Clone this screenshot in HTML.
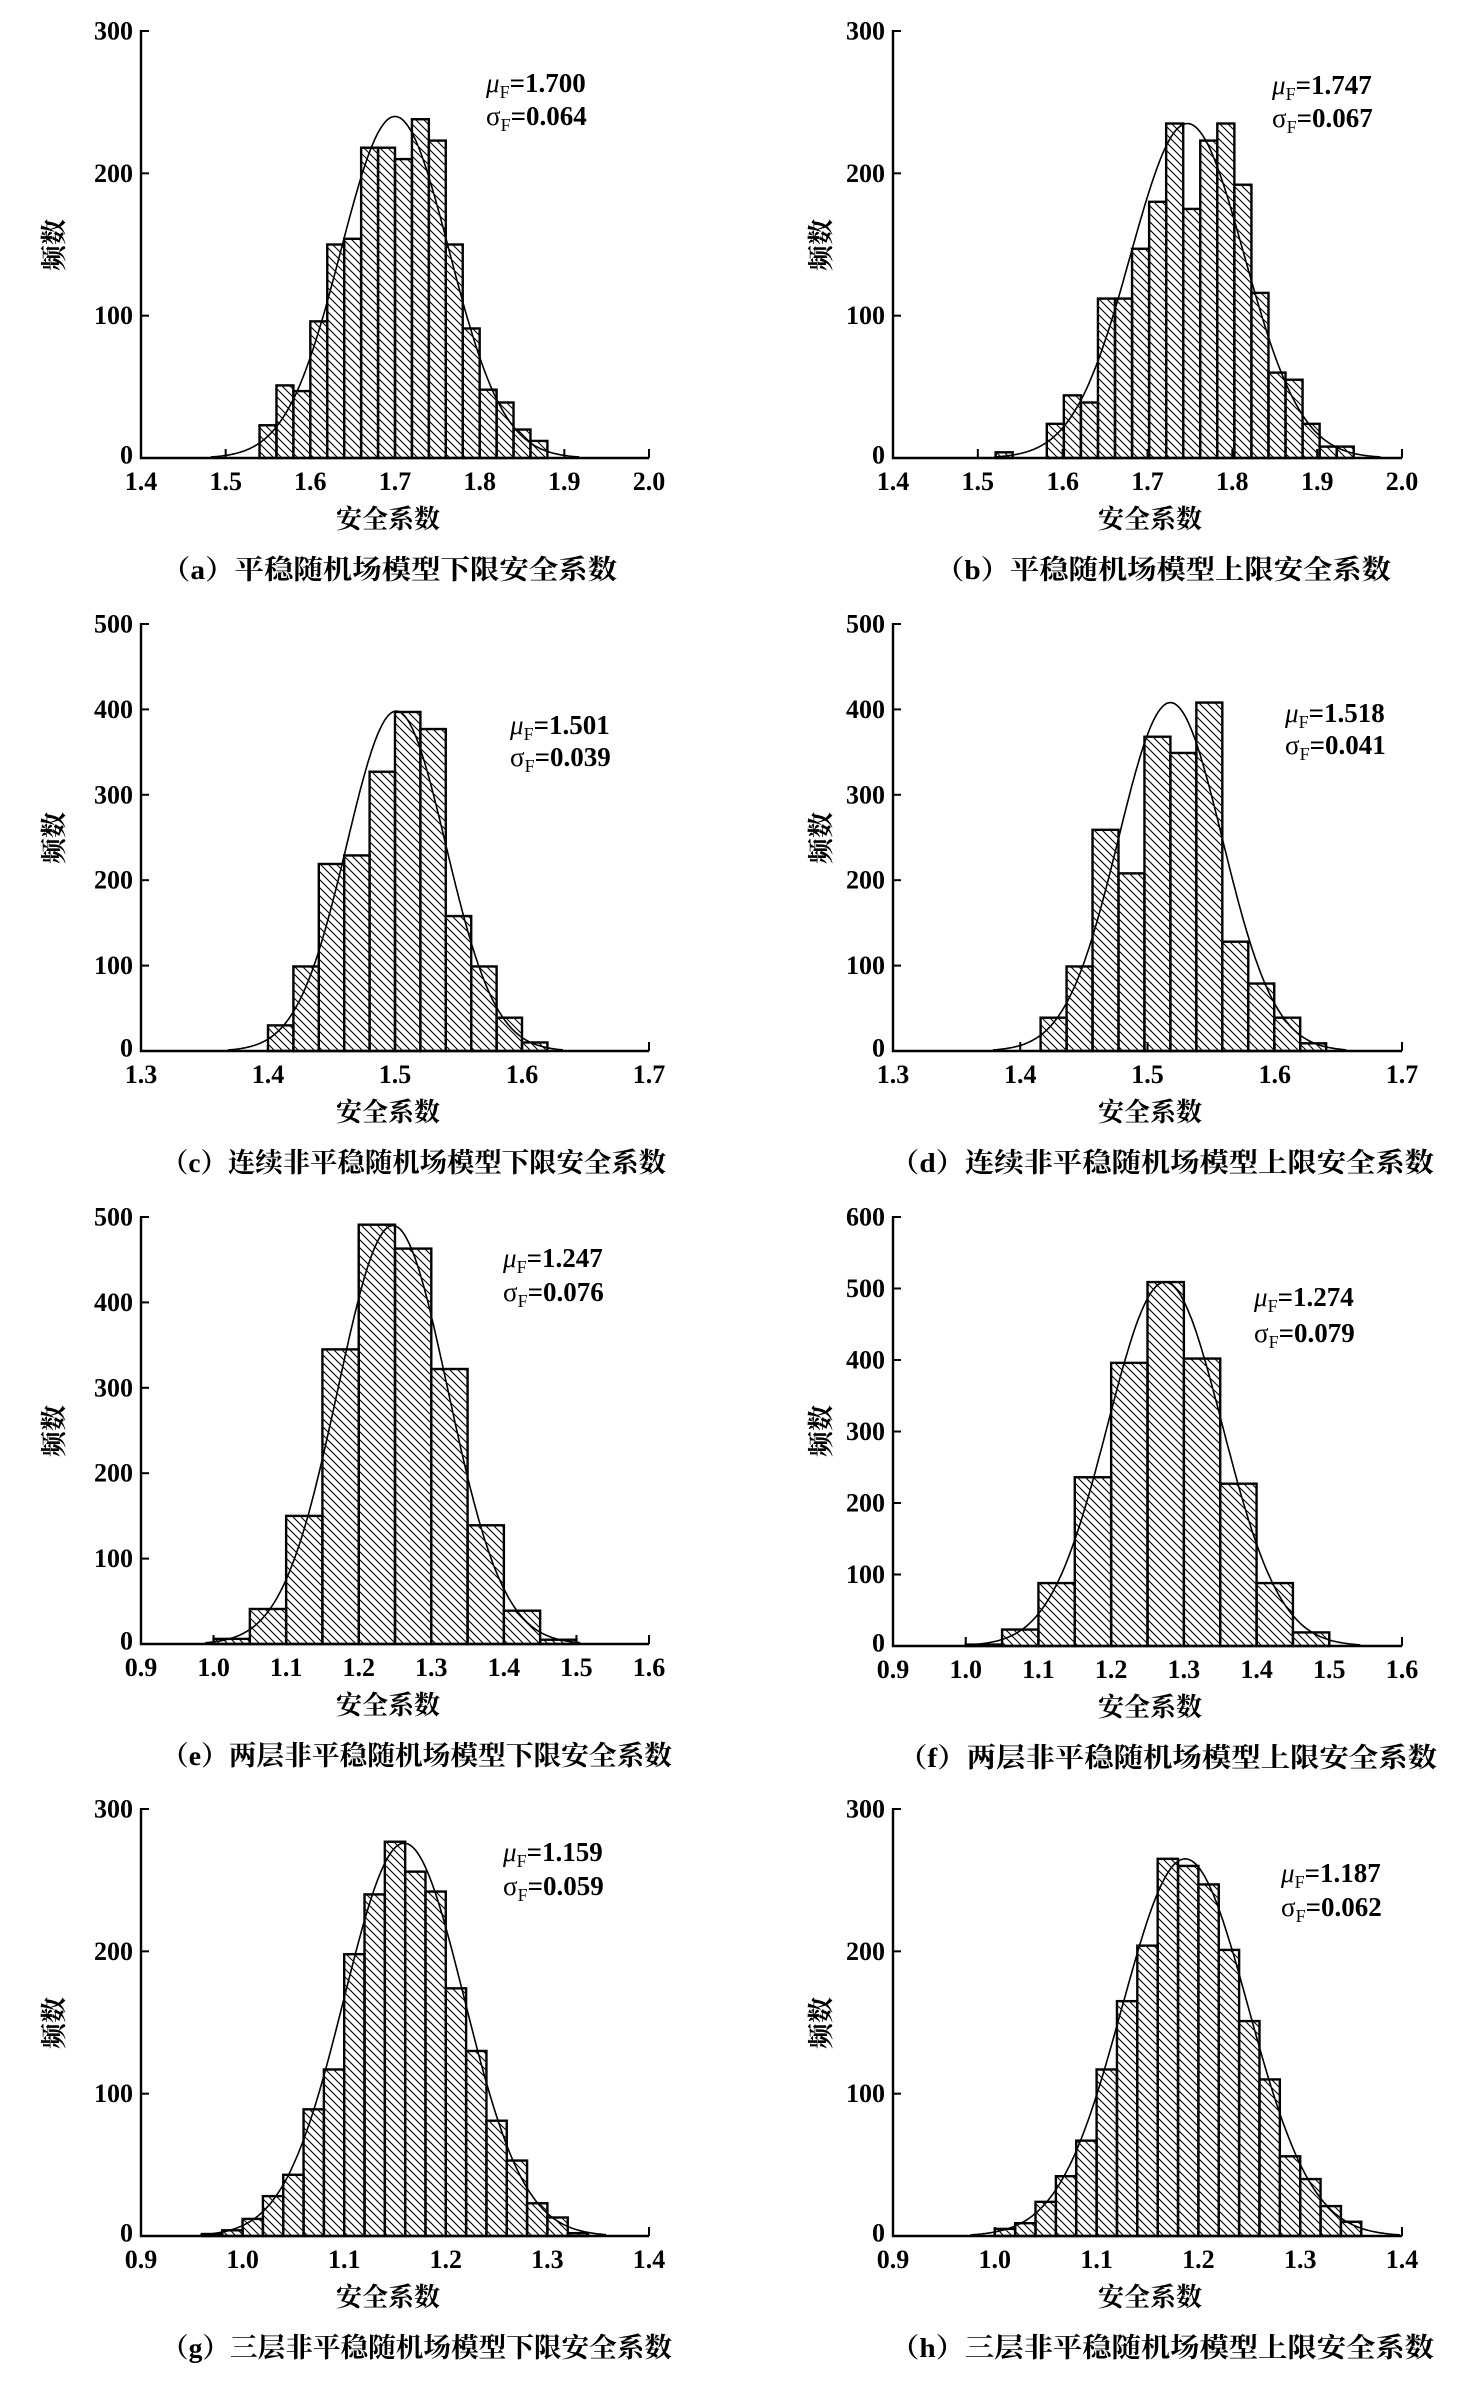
<!DOCTYPE html>
<html><head><meta charset="utf-8"><style>
html,body{margin:0;padding:0;background:#fff;}
svg{display:block;}
.t{font-family:"Liberation Serif",serif;font-size:26px;fill:#000;font-weight:bold;}
.xt{text-anchor:middle;}
.yt{text-anchor:end;dominant-baseline:central;}
.an{font-family:"Liberation Serif",serif;font-size:27px;font-weight:bold;fill:#000;}
.cj{font-family:"Liberation Serif","Noto Serif CJK SC","Noto Sans CJK SC",serif;font-size:26px;fill:#000;font-weight:bold;}
.cap{font-family:"Liberation Serif","Noto Serif CJK SC","Noto Sans CJK SC",serif;font-size:27px;fill:#000;font-weight:bold;}
</style></head><body>
<svg id="s" width="1474" height="2390" viewBox="0 0 1474 2390" xmlns="http://www.w3.org/2000/svg">
<defs>
<pattern id="h" patternUnits="userSpaceOnUse" width="8" height="8">
<path d="M-2,-2 L10,10 M-2,6 L2,10 M6,-2 L10,2" stroke="#000" stroke-width="1.1"/>
</pattern>
</defs>
<g id="g"></g>

<g class="t xt">
<text x="141" y="490">1.4</text><text x="225.7" y="490">1.5</text><text x="310.3" y="490">1.6</text><text x="395" y="490">1.7</text><text x="479.7" y="490">1.8</text><text x="564.3" y="490">1.9</text><text x="649" y="490">2.0</text>
<text x="893" y="490">1.4</text><text x="977.8" y="490">1.5</text><text x="1062.7" y="490">1.6</text><text x="1147.5" y="490">1.7</text><text x="1232.3" y="490">1.8</text><text x="1317.2" y="490">1.9</text><text x="1402" y="490">2.0</text>
<text x="141" y="1083">1.3</text><text x="268" y="1083">1.4</text><text x="395" y="1083">1.5</text><text x="522" y="1083">1.6</text><text x="649" y="1083">1.7</text>
<text x="893" y="1083">1.3</text><text x="1020.3" y="1083">1.4</text><text x="1147.5" y="1083">1.5</text><text x="1274.8" y="1083">1.6</text><text x="1402" y="1083">1.7</text>
<text x="141" y="1676">0.9</text><text x="213.6" y="1676">1.0</text><text x="286.1" y="1676">1.1</text><text x="358.7" y="1676">1.2</text><text x="431.3" y="1676">1.3</text><text x="503.9" y="1676">1.4</text><text x="576.4" y="1676">1.5</text><text x="649" y="1676">1.6</text>
<text x="893" y="1678">0.9</text><text x="965.7" y="1678">1.0</text><text x="1038.4" y="1678">1.1</text><text x="1111.1" y="1678">1.2</text><text x="1183.9" y="1678">1.3</text><text x="1256.6" y="1678">1.4</text><text x="1329.3" y="1678">1.5</text><text x="1402" y="1678">1.6</text>
<text x="141" y="2268">0.9</text><text x="242.6" y="2268">1.0</text><text x="344.2" y="2268">1.1</text><text x="445.8" y="2268">1.2</text><text x="547.4" y="2268">1.3</text><text x="649" y="2268">1.4</text>
<text x="893" y="2268">0.9</text><text x="994.8" y="2268">1.0</text><text x="1096.6" y="2268">1.1</text><text x="1198.4" y="2268">1.2</text><text x="1300.2" y="2268">1.3</text><text x="1402" y="2268">1.4</text>
</g>
<g class="t yt">
<text x="133" y="455">0</text><text x="133" y="315.7">100</text><text x="133" y="173.3">200</text><text x="133" y="31">300</text>
<text x="885" y="455">0</text><text x="885" y="315.7">100</text><text x="885" y="173.3">200</text><text x="885" y="31">300</text>
<text x="133" y="1048">0</text><text x="133" y="965.6">100</text><text x="133" y="880.2">200</text><text x="133" y="794.8">300</text><text x="133" y="709.4">400</text><text x="133" y="624">500</text>
<text x="885" y="1048">0</text><text x="885" y="965.6">100</text><text x="885" y="880.2">200</text><text x="885" y="794.8">300</text><text x="885" y="709.4">400</text><text x="885" y="624">500</text>
<text x="133" y="1641">0</text><text x="133" y="1558.6">100</text><text x="133" y="1473.2">200</text><text x="133" y="1387.8">300</text><text x="133" y="1302.4">400</text><text x="133" y="1217">500</text>
<text x="885" y="1643">0</text><text x="885" y="1574.5">100</text><text x="885" y="1503">200</text><text x="885" y="1431.5">300</text><text x="885" y="1360">400</text><text x="885" y="1288.5">500</text><text x="885" y="1217">600</text>
<text x="133" y="2233">0</text><text x="133" y="2093.7">100</text><text x="133" y="1951.3">200</text><text x="133" y="1809">300</text>
<text x="885" y="2233">0</text><text x="885" y="2093.7">100</text><text x="885" y="1951.3">200</text><text x="885" y="1809">300</text>
</g>

<g class="an">
<text x="486" y="92"><tspan font-style="italic" font-weight="normal">μ</tspan><tspan font-size="18" dy="6" font-weight="normal">F</tspan><tspan dy="-6">=1.700</tspan></text>
<text x="486" y="125"><tspan font-weight="normal">σ</tspan><tspan font-size="18" dy="6" font-weight="normal">F</tspan><tspan dy="-6">=0.064</tspan></text>
<text x="1272" y="94"><tspan font-style="italic" font-weight="normal">μ</tspan><tspan font-size="18" dy="6" font-weight="normal">F</tspan><tspan dy="-6">=1.747</tspan></text>
<text x="1272" y="127"><tspan font-weight="normal">σ</tspan><tspan font-size="18" dy="6" font-weight="normal">F</tspan><tspan dy="-6">=0.067</tspan></text>
<text x="510" y="734"><tspan font-style="italic" font-weight="normal">μ</tspan><tspan font-size="18" dy="6" font-weight="normal">F</tspan><tspan dy="-6">=1.501</tspan></text>
<text x="510" y="766"><tspan font-weight="normal">σ</tspan><tspan font-size="18" dy="6" font-weight="normal">F</tspan><tspan dy="-6">=0.039</tspan></text>
<text x="1285" y="722"><tspan font-style="italic" font-weight="normal">μ</tspan><tspan font-size="18" dy="6" font-weight="normal">F</tspan><tspan dy="-6">=1.518</tspan></text>
<text x="1285" y="754"><tspan font-weight="normal">σ</tspan><tspan font-size="18" dy="6" font-weight="normal">F</tspan><tspan dy="-6">=0.041</tspan></text>
<text x="503" y="1267"><tspan font-style="italic" font-weight="normal">μ</tspan><tspan font-size="18" dy="6" font-weight="normal">F</tspan><tspan dy="-6">=1.247</tspan></text>
<text x="503" y="1301"><tspan font-weight="normal">σ</tspan><tspan font-size="18" dy="6" font-weight="normal">F</tspan><tspan dy="-6">=0.076</tspan></text>
<text x="1254" y="1306"><tspan font-style="italic" font-weight="normal">μ</tspan><tspan font-size="18" dy="6" font-weight="normal">F</tspan><tspan dy="-6">=1.274</tspan></text>
<text x="1254" y="1342"><tspan font-weight="normal">σ</tspan><tspan font-size="18" dy="6" font-weight="normal">F</tspan><tspan dy="-6">=0.079</tspan></text>
<text x="503" y="1861"><tspan font-style="italic" font-weight="normal">μ</tspan><tspan font-size="18" dy="6" font-weight="normal">F</tspan><tspan dy="-6">=1.159</tspan></text>
<text x="503" y="1895"><tspan font-weight="normal">σ</tspan><tspan font-size="18" dy="6" font-weight="normal">F</tspan><tspan dy="-6">=0.059</tspan></text>
<text x="1281" y="1882"><tspan font-style="italic" font-weight="normal">μ</tspan><tspan font-size="18" dy="6" font-weight="normal">F</tspan><tspan dy="-6">=1.187</tspan></text>
<text x="1281" y="1916"><tspan font-weight="normal">σ</tspan><tspan font-size="18" dy="6" font-weight="normal">F</tspan><tspan dy="-6">=0.062</tspan></text>
</g>

<g class="cj" text-anchor="middle">
<text x="388" y="528">安全系数</text><text x="1150" y="528">安全系数</text>
<text x="388" y="1121">安全系数</text><text x="1150" y="1121">安全系数</text>
<text x="388" y="1714">安全系数</text><text x="1150" y="1716">安全系数</text>
<text x="388" y="2306">安全系数</text><text x="1150" y="2306">安全系数</text>
<text transform="translate(63,245) rotate(-90)">频数</text>
<text transform="translate(830,245) rotate(-90)">频数</text>
<text transform="translate(63,838) rotate(-90)">频数</text>
<text transform="translate(830,838) rotate(-90)">频数</text>
<text transform="translate(63,1431) rotate(-90)">频数</text>
<text transform="translate(830,1431) rotate(-90)">频数</text>
<text transform="translate(63,2023) rotate(-90)">频数</text>
<text transform="translate(830,2023) rotate(-90)">频数</text>
</g>
<g class="cap">
<text x="161" y="579" textLength="456" lengthAdjust="spacingAndGlyphs">（a）平稳随机场模型下限安全系数</text>
<text x="935" y="579" textLength="456" lengthAdjust="spacingAndGlyphs">（b）平稳随机场模型上限安全系数</text>
<text x="161" y="1172" textLength="505" lengthAdjust="spacingAndGlyphs">（c）连续非平稳随机场模型下限安全系数</text>
<text x="890" y="1172" textLength="544" lengthAdjust="spacingAndGlyphs">（d）连续非平稳随机场模型上限安全系数</text>
<text x="161" y="1765" textLength="511" lengthAdjust="spacingAndGlyphs">（e）两层非平稳随机场模型下限安全系数</text>
<text x="898" y="1767" textLength="539" lengthAdjust="spacingAndGlyphs">（f）两层非平稳随机场模型上限安全系数</text>
<text x="161" y="2357" textLength="511" lengthAdjust="spacingAndGlyphs">（g）三层非平稳随机场模型下限安全系数</text>
<text x="890" y="2357" textLength="544" lengthAdjust="spacingAndGlyphs">（h）三层非平稳随机场模型上限安全系数</text>
</g>
</svg>
<script>
(function(){
var NS="http://www.w3.org/2000/svg",G=document.getElementById("g");
function el(n,a){var e=document.createElementNS(NS,n);for(var k in a)e.setAttribute(k,a[k]);G.appendChild(e);return e;}
var L=[141,649],R=[893,1402];
var C=[
{c:L,z:458,t:31,ym:300,xa:1.4,xb:2.0,xs:.1,s:1.54,w:.02,n:[23,51,47,96,150,154,218,218,210,238,223,150,91,48,39,20,12],mu:1.7,sd:.064,pk:240},
{c:R,z:458,t:31,ym:300,xa:1.4,xb:2.0,xs:.1,s:1.521,w:.0201,n:[4,0,0,24,44,39,112,112,147,180,235,175,223,235,192,116,60,55,24,8,8],mu:1.747,sd:.067,pk:235},
{c:L,z:1051,t:624,ym:500,xa:1.3,xb:1.7,xs:.1,s:1.40,w:.02,n:[30,99,219,229,327,397,377,158,99,39,10],mu:1.501,sd:.039,pk:398},
{c:R,z:1051,t:624,ym:500,xa:1.3,xb:1.7,xs:.1,s:1.416,w:.0204,n:[39,99,259,208,368,349,408,128,79,39,9],mu:1.518,sd:.041,pk:408},
{c:L,z:1644,t:1217,ym:500,xa:.9,xb:1.6,xs:.1,s:1.0,w:.05,n:[6,41,150,345,491,463,322,139,39,5],mu:1.247,sd:.076,pk:490},
{c:R,z:1646,t:1217,ym:600,xa:.9,xb:1.6,xs:.1,s:1.0,w:.05,n:[2,23,88,236,396,509,402,227,88,19],mu:1.274,sd:.079,pk:509},
{c:L,z:2236,t:1809,ym:300,xa:.9,xb:1.4,xs:.1,s:.96,w:.02,n:[1.4,4,12,28,43,89,117,198,240,277,256,242,174,130,81,53,23,13,2],mu:1.159,sd:.059,pk:276},
{c:R,z:2236,t:1809,ym:300,xa:.9,xb:1.4,xs:.1,s:1.0,w:.02,n:[5,9,24,42,67,117,165,204,265,260,247,201,151,110,56,40,21,10],mu:1.187,sd:.062,pk:265}
];
C.forEach(function(o){
 var x0=o.c[0],x1=o.c[1];
 function X(v){return x0+(v-o.xa)/(o.xb-o.xa)*(x1-x0);}
 function Y(v){return o.z-v/o.ym*(o.z-o.t);}
 o.n.forEach(function(c,i){ if(c<=0)return;
  var a=X(o.s+i*o.w),b=X(o.s+(i+1)*o.w),y=Y(c);
  el("rect",{x:a,y:y,width:b-a,height:o.z-y,fill:"url(#h)",stroke:"#000","stroke-width":2.4});
 });
 var d="";
 for(var v=o.mu-3.4*o.sd;v<=o.mu+3.4*o.sd;v+=o.sd/30){
  var f=o.pk*Math.exp(-0.5*Math.pow((v-o.mu)/o.sd,2));
  d+=(d?"L":"M")+X(v).toFixed(1)+","+Y(f).toFixed(1);
 }
 el("path",{d:d,fill:"none",stroke:"#000","stroke-width":1.6});
 el("path",{d:"M"+x0+","+(o.t-1)+"L"+x0+","+o.z+"L"+x1+","+o.z,fill:"none",stroke:"#000","stroke-width":2.4});
 for(var k=0;k<=o.ym;k+=100){el("line",{x1:x0,x2:x0+8,y1:Y(k),y2:Y(k),stroke:"#000","stroke-width":2});}
 var m=Math.round((o.xb-o.xa)/o.xs);
 for(var j=1;j<=m;j++){var xx=X(o.xa+j*o.xs);el("line",{x1:xx,x2:xx,y1:o.z,y2:o.z-9,stroke:"#000","stroke-width":2});}
});
})();
</script>
</body></html>
